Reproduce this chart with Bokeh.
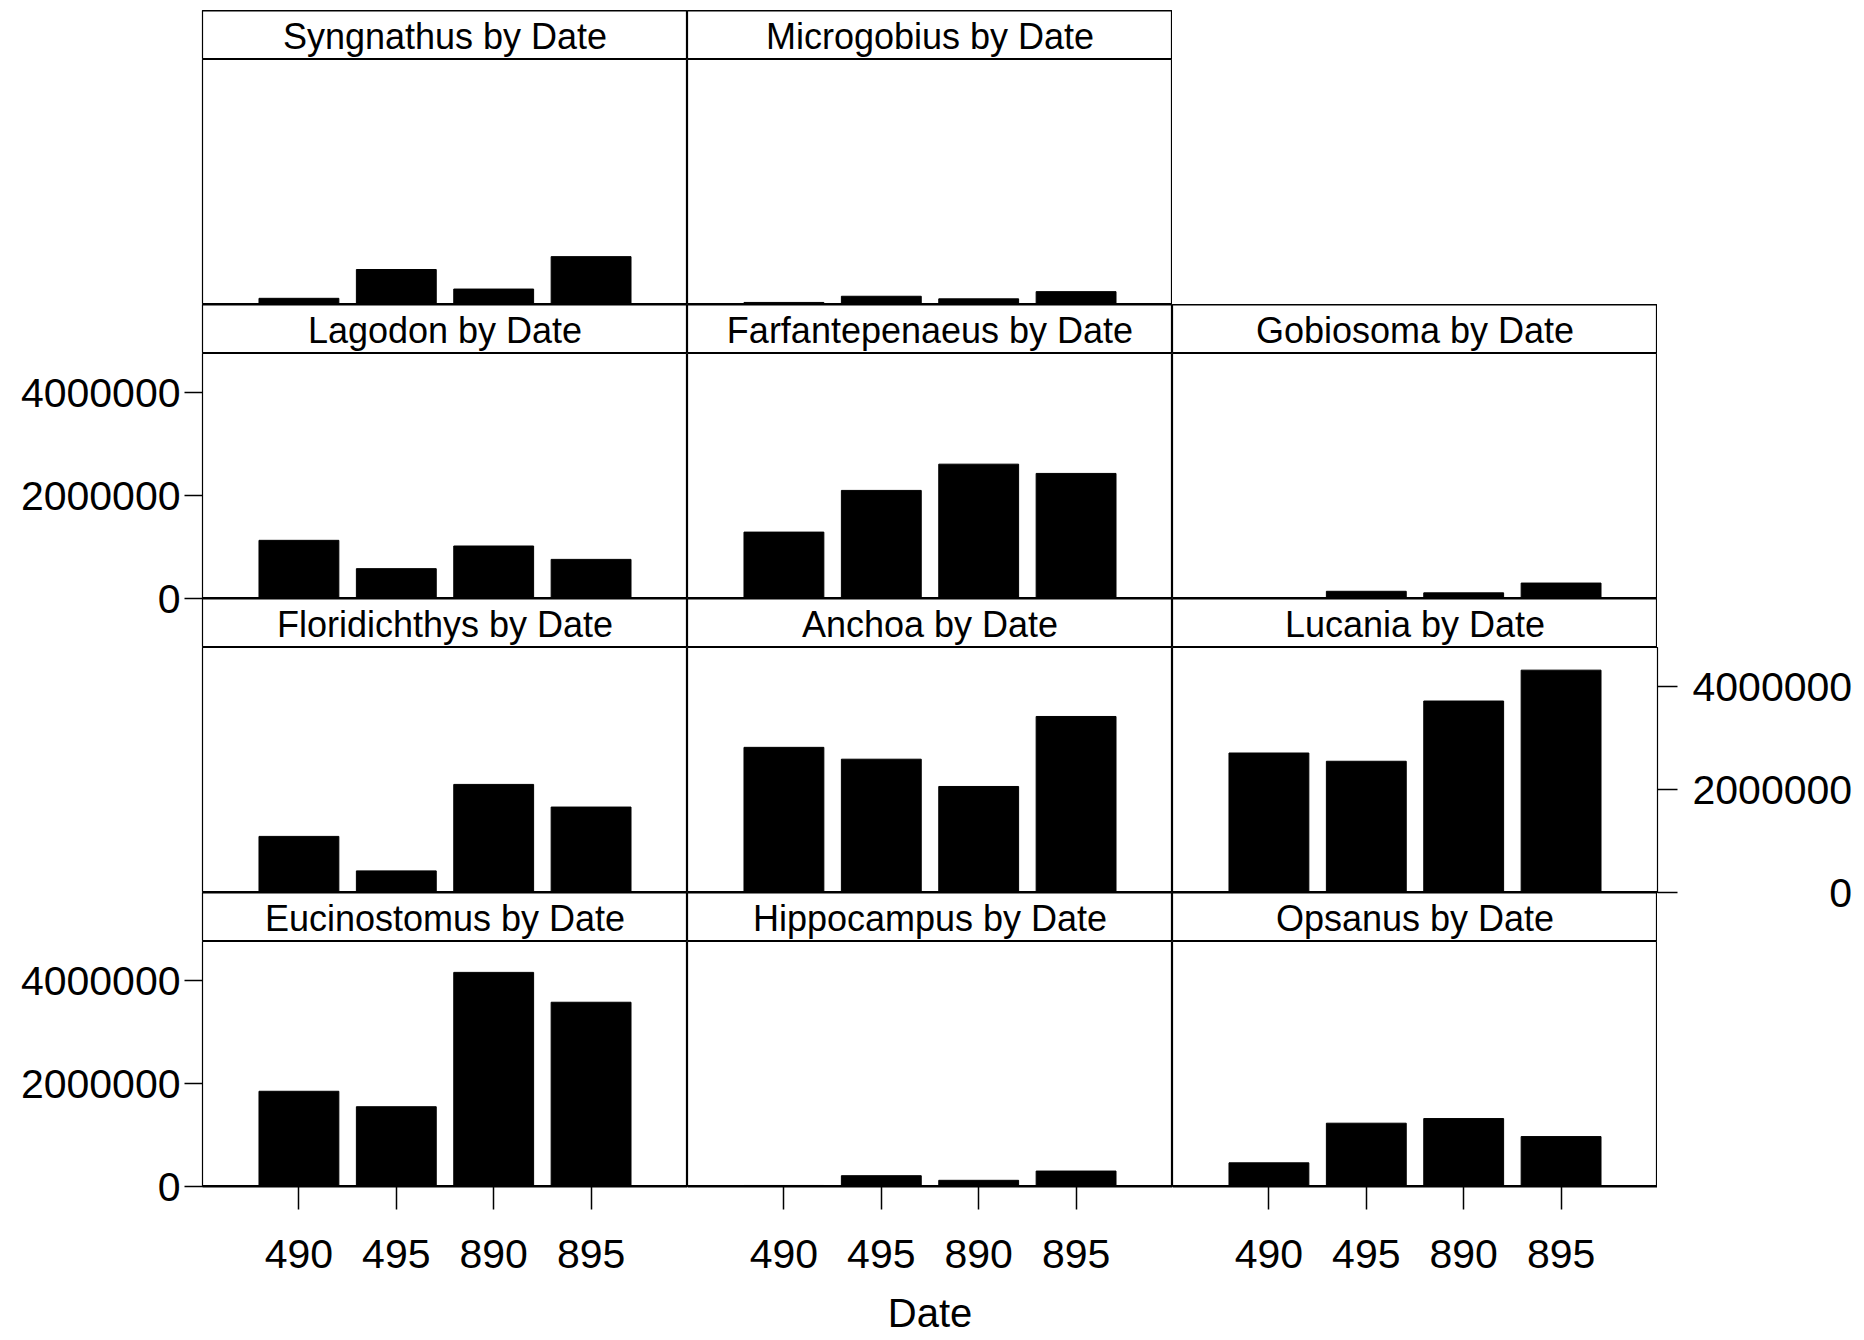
from bokeh.plotting import figure
from bokeh.layouts import column, row
from bokeh.models import (Spacer, Range1d, FactorRange, Label, Span, LinearAxis,
                          CategoricalAxis, FixedTicker, NumeralTickFormatter)
from bokeh.embed import file_html
from bokeh.resources import INLINE

# ---------------- data ----------------
dates = ["490", "495", "890", "895"]

syngnathus = [120000, 680000, 300000, 930000]
microgobius = [40000, 160000, 110000, 250000]
lagodon = [1130000, 580000, 1020000, 760000]
farfantepenaeus = [1290000, 2100000, 2610000, 2430000]
gobiosoma = [0, 140000, 110000, 300000]
floridichthys = [1090000, 420000, 2100000, 1660000]
anchoa = [2820000, 2590000, 2060000, 3420000]
lucania = [2710000, 2550000, 3720000, 4320000]
eucinostomus = [1850000, 1550000, 4160000, 3580000]
hippocampus = [20000, 210000, 120000, 300000]
opsanus = [460000, 1230000, 1320000, 970000]

y_ticks = [0, 2000000, 4000000]
y_max = 4760000

grid = [
    [("Syngnathus", syngnathus), ("Microgobius", microgobius)],
    [("Lagodon", lagodon), ("Farfantepenaeus", farfantepenaeus), ("Gobiosoma", gobiosoma)],
    [("Floridichthys", floridichthys), ("Anchoa", anchoa), ("Lucania", lucania)],
    [("Eucinostomus", eucinostomus), ("Hippocampus", hippocampus), ("Opsanus", opsanus)],
]

FONT = "Liberation Sans"
FW = 485
STRIP_H = 49
DATA_H = 245
LEFT_PAD = 202
OVER = 32  # room below a panel for an end tick label that hangs into the next row


def base_fig(h, col, x_range, y_range, bottom=0):
    p = figure(frame_width=FW, frame_height=h, x_range=x_range, y_range=y_range,
               output_backend="svg", toolbar_location=None,
               x_axis_location=None, y_axis_location=None,
               min_border=0, min_border_left=(LEFT_PAD if col == 0 else 0),
               min_border_bottom=bottom,
               background_fill_color="white", border_fill_color=None)
    p.grid.visible = False
    p.outline_line_color = "black"
    p.outline_line_width = 1.2
    return p


def strip_fig(name, col):
    p = base_fig(STRIP_H, col, Range1d(0, 1), Range1d(0, 1))
    p.add_layout(Span(location=0, dimension="width", line_color="black", line_width=3))
    p.add_layout(Span(location=1, dimension="width", line_color="black", line_width=2))
    p.add_layout(Label(x=0.5, y=0.47, text=f"{name} by Date", text_align="center",
                       text_baseline="middle", text_font=FONT,
                       text_font_size="36px", text_color="black"))
    return p


def style_axis(ax, tick_out, standoff):
    ax.major_tick_out = tick_out
    ax.major_tick_in = 0
    ax.minor_tick_out = 0
    ax.minor_tick_in = 0
    ax.major_label_standoff = standoff
    ax.major_tick_line_width = 1.5
    ax.major_tick_line_color = "black"
    ax.major_label_text_font = FONT
    ax.major_label_text_font_size = "41px"
    ax.major_label_text_color = "black"


def data_fig(vals, r, c):
    xr = FactorRange(*dates, range_padding=0.49, range_padding_units="absolute")
    if (r == 1 and c == 0) or (r == 2 and c == 2):
        bottom = OVER
    elif r == 3:
        bottom = 150
    else:
        bottom = 0
    p = base_fig(DATA_H, c, xr, Range1d(0, y_max), bottom=bottom)
    p.vbar(x=dates, top=vals, width=0.82, fill_color="black", line_color="black")
    p.add_layout(Span(location=0, dimension="width", line_color="black", line_width=3))
    if c == 0 and r in (1, 3):
        ax = LinearAxis(ticker=FixedTicker(ticks=y_ticks),
                        formatter=NumeralTickFormatter(format="0"))
        style_axis(ax, 18, 4)
        ax.axis_line_color = None
        p.add_layout(ax, "left")
    if c == 2 and r == 2:
        ax = LinearAxis(ticker=FixedTicker(ticks=y_ticks),
                        formatter=NumeralTickFormatter(format="0"))
        style_axis(ax, 20, 15)
        ax.axis_line_color = None
        ax.major_label_overrides = {0: "\u2007" * 6 + "0"}
        p.add_layout(ax, "right")
    if r == 3:
        ax = CategoricalAxis()
        style_axis(ax, 23, 30)
        ax.axis_line_color = "black"
        ax.axis_line_width = 2
        if c == 1:
            ax.axis_label = "Date"
            ax.axis_label_standoff = 20
            ax.axis_label_text_font = FONT
            ax.axis_label_text_font_size = "40px"
            ax.axis_label_text_font_style = "normal"
            ax.axis_label_text_color = "black"
        p.add_layout(ax, "below")
    return p


rows = [Spacer(height=10)]
for r, panels in enumerate(grid):
    strips = [strip_fig(name, c) for c, (name, vals) in enumerate(panels)]
    datas = [data_fig(vals, r, c) for c, (name, vals) in enumerate(panels)]
    # rows 3 and 4 start where the panels above end, over the hanging "0" labels
    top = -OVER if r in (2, 3) else 0
    rows.append(row(*strips, spacing=0, margin=(top, 0, 0, 0)))
    rows.append(row(*datas, spacing=0))

layout = column(*rows, spacing=0)

open("out.html", "w").write(file_html(layout, INLINE))
